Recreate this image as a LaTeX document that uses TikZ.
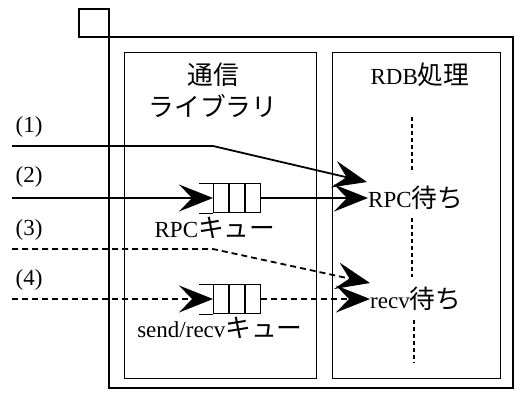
\documentclass[tikz,border=0pt]{standalone}
\usepackage{fontspec}
\setmainfont{Liberation Serif}
\newfontfamily\jp[Scale=1.12]{Noto Sans CJK JP}
\usetikzlibrary{arrows.meta}
\tikzset{>={Stealth[length=34pt,width=27pt,inset=13pt]}}
\begin{document}
\begin{tikzpicture}[x=1pt,y=-1pt,
  every node/.style={font=\fontsize{23}{27}\selectfont, inner sep=0pt},
  frame/.style={line width=1.8pt},
  panel/.style={draw, line width=0.9pt},
  flow/.style={line width=1.8pt},
  dflow/.style={line width=1.8pt, dash pattern=on 6pt off 4pt},
  head/.style={->},
  dots/.style={line width=2pt, dash pattern=on 4pt off 3pt},
  qcell/.style={draw, line width=0.9pt, minimum width=15pt, minimum height=29pt, anchor=west}]
\useasboundingbox (0,0) rectangle (516,392);
% frame
\draw[frame] (79,9) rectangle (109,37);
\draw[frame] (109,37) rectangle (513,388);
% panels
\draw[panel] (124,52) rectangle (316,378);
\draw[panel] (332,52) rectangle (500,378);
% titles
\node (lib1) at (213,75) {\jp 通信};
\node (lib2) at (213,106) {\jp ライブラリ};
\node (rdb) at (420,75) {RDB{\jp 処理}};
% labels
\node (l1) at (29,127) {(1)};
\node (l2) at (29,177) {(2)};
\node (l3) at (29,230) {(3)};
\node (l4) at (29,280) {(4)};
% queues
\node[qcell] (qa) at (213,198) {};
\node[qcell] (qb) at (qa.east) {};
\node[qcell] (qc) at (qb.east) {};
\draw[line width=0.9pt] (qa.north west) -- ++(-14,0) (qa.south west) -- ++(-14,0);
\node[qcell] (ra) at (213,299) {};
\node[qcell] (rb) at (ra.east) {};
\node[qcell] (rc) at (rb.east) {};
\draw[line width=0.9pt] (ra.north west) -- ++(-14,0) (ra.south west) -- ++(-14,0);
\node (qlab1) at (215,228) {RPC{\jp キュー}};
\node (qlab2) at (220,328) {send/recv{\jp キュー}};
% targets
\node[anchor=west] (rpc) at (368,198) {RPC{\jp 待ち}};
\node[anchor=west] (recv) at (370,299) {recv{\jp 待ち}};
% dotted lines
\draw[dots] (412,117) -- (412,173);
\draw[dots] (412,218) -- (412,277);
\draw[dots] (414,320) -- (414,363);
% flows
\coordinate (s1) at (12,146);
\coordinate (k1) at (213,146);
\coordinate (t1) at (367,182);
\coordinate (s2) at (12,198);
\coordinate (s3) at (12,249);
\coordinate (k3) at (213,249);
\coordinate (t3) at (370,283);
\coordinate (s4) at (12,299);
\draw[flow,head] (s1) -- (k1) -- (t1);
\draw[flow,head] (s2) -- (qa.west);
\draw[flow,head] (qc.east) -- (rpc.west);
\draw[dflow,head] (s3) -- (k3) -- (t3);
\draw[dflow,head] (s4) -- (ra.west);
\draw[dflow,head] (rc.east) -- (recv.west);
\end{tikzpicture}
\end{document}
